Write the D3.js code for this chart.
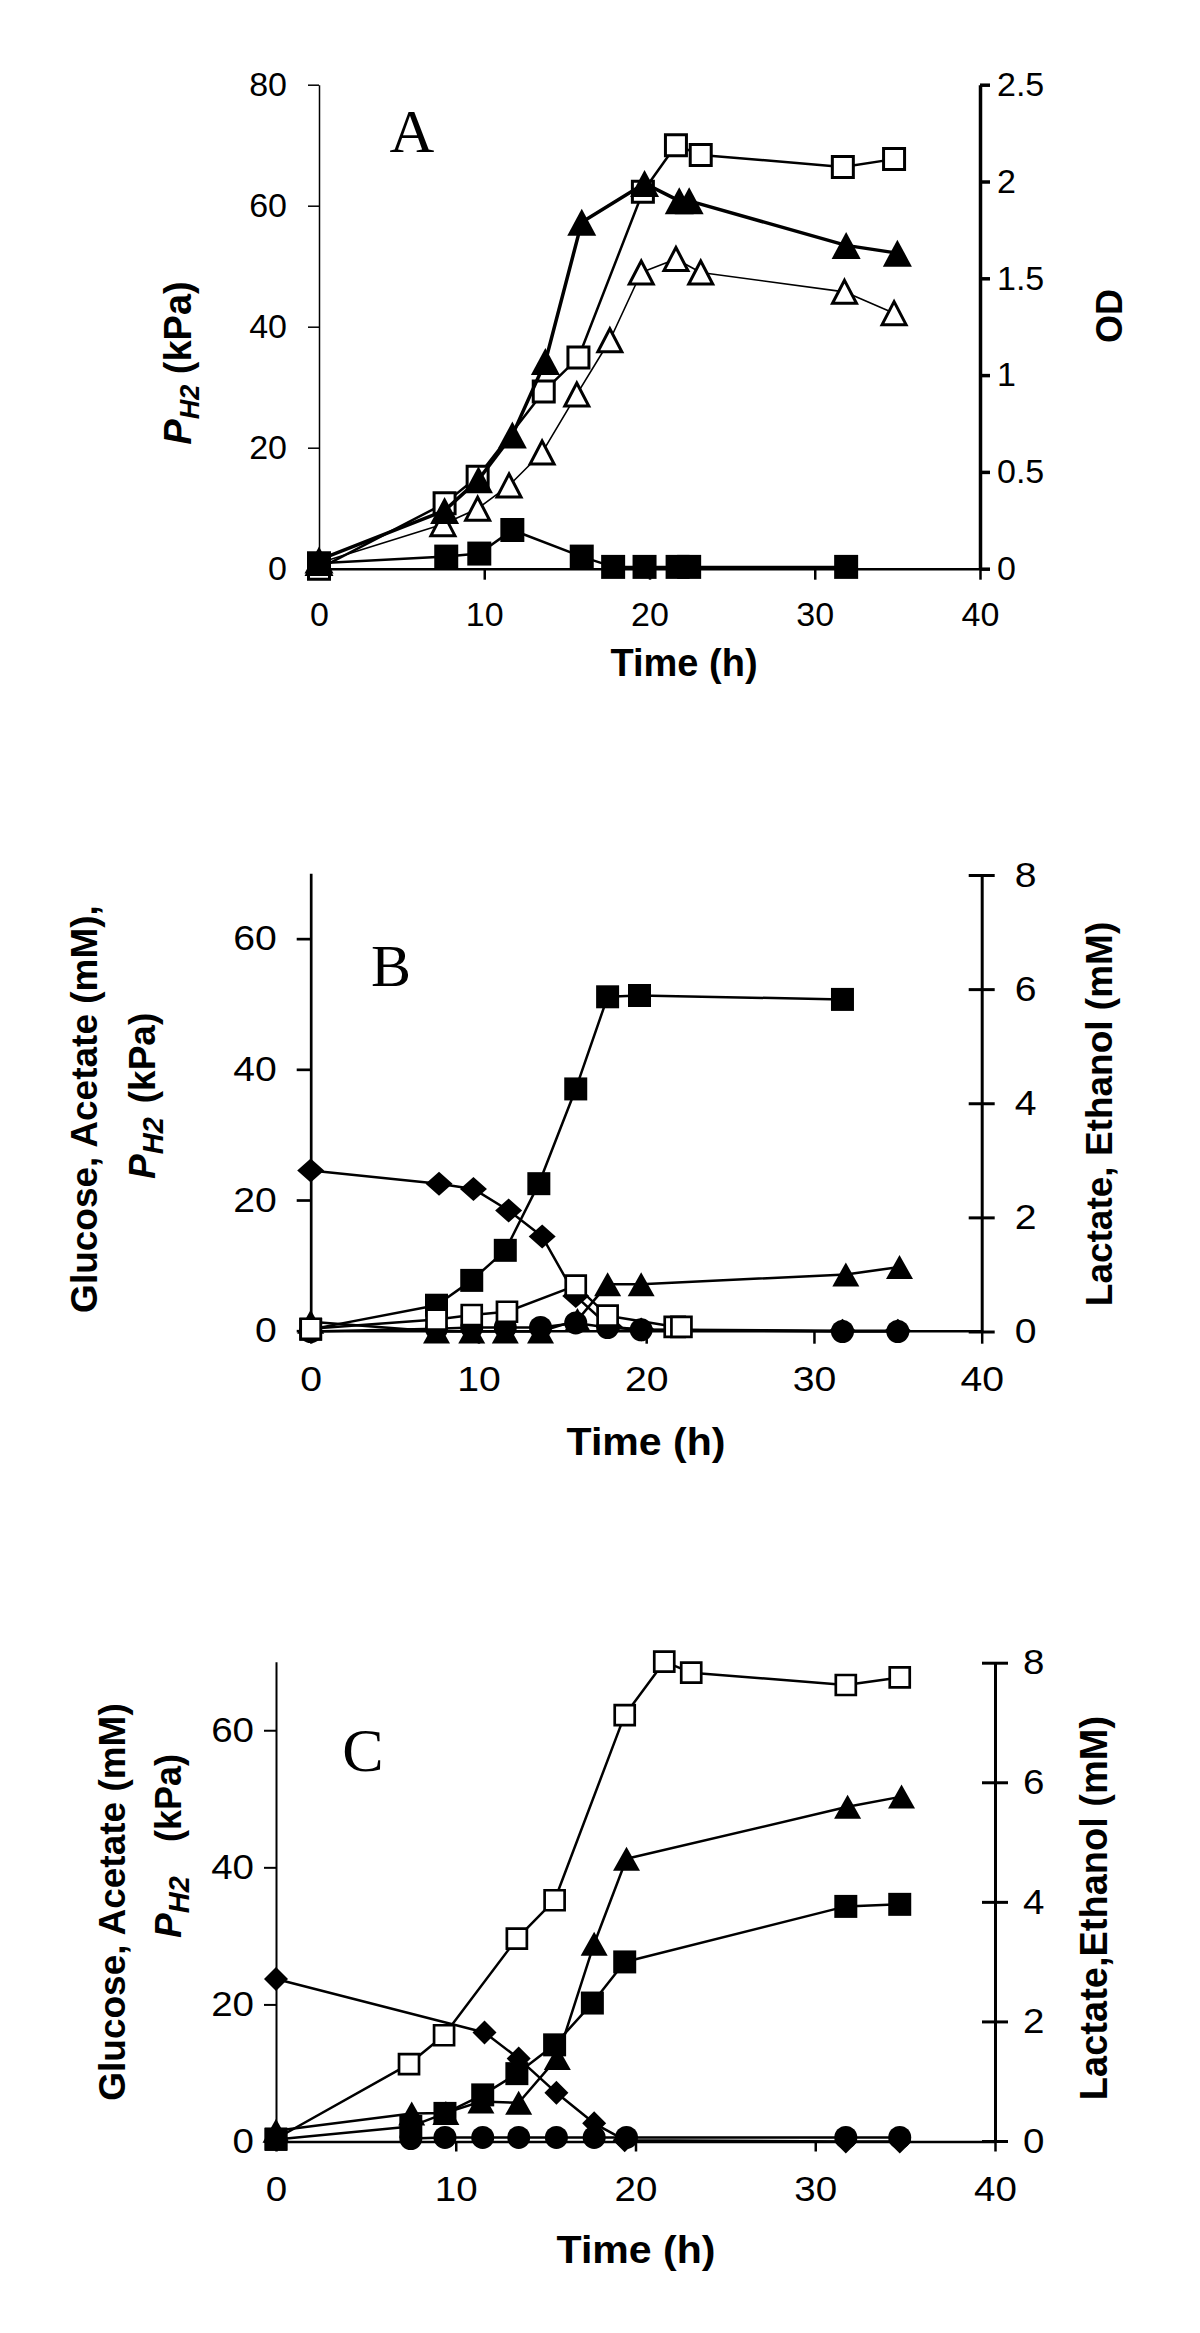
<!DOCTYPE html>
<html><head><meta charset="utf-8">
<script src="https://cdn.jsdelivr.net/npm/d3@7"></script>
<style>
html,body{margin:0;padding:0;background:#fff;}
svg{display:block;background:#fff;}
</style></head>
<body>
<svg id="chart" width="1200" height="2333"></svg>
<script>
// ================= DATA =================
const timeTicks = [0, 10, 20, 30, 40];

// ---- Panel A ----
const aLeftTicks = [0, 20, 40, 60, 80];
const aRightTicks = [0, 0.5, 1, 1.5, 2, 2.5];
const aOpenSqT = [0, 7.6, 9.6, 13.6, 15.7, 19.6, 21.6, 23.1, 31.7, 34.8];
const aOpenSqPH2 = [0, 10.8, 15.2, 29.3, 34.9, 62.3, 70.0, 68.4, 66.4, 67.7];
const aOpenTriT = [0, 7.5, 9.6, 11.5, 13.5, 15.6, 17.6, 19.5, 21.6, 23.1, 31.8, 34.8];
const aOpenTriOD = [0.03, 0.23, 0.31, 0.43, 0.60, 0.90, 1.18, 1.53, 1.60, 1.53, 1.43, 1.32];
const aFilledSqT = [0, 7.7, 9.7, 11.7, 15.9, 17.8, 19.7, 21.7, 22.4, 31.9];
const aFilledSqPH2 = [0.9, 2.0, 2.5, 6.4, 2.0, 0.3, 0.3, 0.3, 0.3, 0.3];
const aFilledTriT = [0, 7.6, 9.65, 11.7, 13.7, 15.9, 19.7, 21.8, 22.4, 31.9, 35.0];
const aFilledTriOD = [0.045, 0.30, 0.46, 0.69, 1.07, 1.79, 1.99, 1.90, 1.90, 1.67, 1.63];

// ---- Panels B and C axes ----
const bcLeftTicks = [0, 20, 40, 60];
const bcRightTicks = [0, 2, 4, 6, 8];

// ---- Panel B ----
const bGlucoseT = [0, 7.65, 9.7, 11.8, 13.8, 15.8, 17.8, 19.7, 31.7, 35.0];
const bGlucose = [24.5, 22.5, 21.7, 18.4, 14.4, 5.3, 0.6, 0.2, 0, 0];
const bAcetateT = [0, 7.5, 9.6, 11.6, 13.6, 15.8, 17.7, 19.6, 31.7];
const bAcetate = [0.2, 3.9, 7.7, 12.3, 22.5, 37.0, 51.1, 51.3, 50.7];
const bPH2T = [0, 7.5, 9.6, 11.7, 15.8, 17.7, 21.7, 22.1];
const bPH2 = [0.3, 1.7, 2.4, 2.9, 6.9, 2.3, 0.6, 0.6];
const bLactateT = [0, 7.5, 9.6, 11.6, 13.7, 15.9, 17.7, 19.7, 31.9, 35.1];
const bLactate = [0.17, 0, 0, 0, 0, 0.2, 0.83, 0.83, 1.0, 1.13];
const bEthanolT = [0, 7.5, 9.6, 11.6, 13.7, 15.8, 17.7, 19.7, 31.7, 35.0];
const bEthanol = [0, 0.05, 0.07, 0.07, 0.07, 0.15, 0.07, 0.03, 0, 0];

// ---- Panel C ----
const cPH2T = [0, 7.4, 9.35, 13.4, 15.5, 19.4, 21.6, 23.1, 31.7, 34.7];
const cPH2 = [0.4, 11.3, 15.5, 29.6, 35.2, 62.2, 70.0, 68.4, 66.6, 67.7];
const cAcetateT = [0, 7.5, 9.4, 11.5, 13.4, 15.5, 17.6, 19.4, 31.7, 34.7];
const cAcetate = [0.3, 2.2, 4.1, 6.8, 9.9, 14.1, 20.2, 26.2, 34.3, 34.6];
const cLactateT = [0, 7.55, 9.45, 11.4, 13.5, 15.65, 17.7, 19.5, 31.8, 34.8];
const cLactate = [0.17, 0.46, 0.47, 0.66, 0.64, 1.39, 3.30, 4.72, 5.59, 5.76];
const cGlucoseT = [0, 11.6, 13.5, 15.6, 17.7, 19.4, 31.7, 34.7];
const cGlucose = [23.7, 15.9, 12.1, 7.1, 2.65, 0.2, 0, 0];
const cEthanolT = [7.5, 9.4, 11.5, 13.5, 15.6, 17.7, 19.5, 31.7, 34.7];
const cEthanol = [0.04, 0.06, 0.06, 0.06, 0.06, 0.06, 0.06, 0.06, 0.06];

// ================= DRAWING =================
const SANS = "'Liberation Sans', Arial, Helvetica, sans-serif";
const SERIF = "'Liberation Serif', 'Times New Roman', serif";
const svg = d3.select("#chart");
svg.append("rect").attr("width", 1200).attr("height", 2333).attr("fill", "#fff");

function markerPath(shape, w, h) {
  const a = w / 2, b = h / 2;
  if (shape === "square") return `M${-a},${-b}H${a}V${b}H${-a}Z`;
  if (shape === "triangle") return `M0,${-b}L${a},${b}L${-a},${b}Z`;
  return `M0,${-b}L${a},0L0,${b}L${-a},0Z`; // diamond
}

function styleAxis(ax, size, sw, sx) {
  ax.attr("font-family", SANS).attr("font-size", size);
  ax.select(".domain").attr("stroke", "#000").attr("stroke-width", sw);
  ax.selectAll(".tick line").attr("stroke", "#000").attr("stroke-width", sw);
  ax.selectAll(".tick text").attr("fill", "#000").each(function () {
    if (sx !== 1) {
      const t = d3.select(this);
      const xv = +(t.attr("x") || 0);
      t.attr("x", xv / sx).attr("transform", `scale(${sx},1)`);
    }
  });
}

function drawPanel(p) {
  const g = svg.append("g");
  const x = d3.scaleLinear().domain([0, 40]).range([p.x0, p.x1]);
  const yL = d3.scaleLinear().domain(p.leftDomain).range([p.yB, p.yT]);
  const yR = d3.scaleLinear().domain(p.rightDomain).range([p.yBR, p.yTR]);
  const fmt = d => String(d);

  const gx = g.append("g").attr("transform", `translate(0,${p.yB})`)
    .call(d3.axisBottom(x).tickValues(timeTicks).tickFormat(fmt)
      .tickSize(p.xTick).tickSizeOuter(0).tickPadding(p.xPad));
  styleAxis(gx, p.fontSize, p.xSW, p.sx);

  const gl = g.append("g").attr("transform", `translate(${p.x0},0)`)
    .call(d3.axisLeft(yL).tickValues(p.leftTicks).tickFormat(fmt)
      .tickSize(p.lTick).tickSizeOuter(0).tickPadding(p.lPad));
  styleAxis(gl, p.fontSize, p.lSW, p.sx);

  const gr = g.append("g").attr("transform", `translate(${p.x1},0)`)
    .call(d3.axisRight(yR).tickValues(p.rightTicks).tickFormat(fmt)
      .tickSize(p.rTick).tickSizeOuter(0).tickPadding(p.rPad));
  styleAxis(gr, p.fontSize, p.rSW, p.sx);
  if (p.rCross) gr.selectAll(".tick line").attr("x1", -p.rTick);

  p.series.forEach(s => {
    const y = s.axis === "R" ? yR : yL;
    const pts = s.t.map((t, i) => [x(t), y(s.v[i])]);
    g.append("path").attr("d", d3.line()(pts))
      .attr("fill", "none").attr("stroke", "#000")
      .attr("stroke-width", s.lw).attr("stroke-linejoin", "round");
    const mg = g.append("g");
    if (s.shape === "circle") {
      mg.selectAll("circle").data(pts).join("circle")
        .attr("cx", d => d[0]).attr("cy", d => d[1]).attr("r", s.w / 2)
        .attr("fill", s.fill).attr("stroke", "#000").attr("stroke-width", s.sw);
    } else {
      mg.selectAll("path").data(pts).join("path")
        .attr("d", markerPath(s.shape, s.w, s.h))
        .attr("transform", d => `translate(${d[0]},${d[1]})`)
        .attr("fill", s.fill).attr("stroke", "#000").attr("stroke-width", s.sw)
        .attr("stroke-linejoin", "miter");
    }
  });
  return g;
}

function rotLabel(x, y, size, parts, opt = {}) {
  const t = svg.append("text")
    .attr("transform", `translate(${x},${y}) rotate(-90)`)
    .attr("text-anchor", "middle").attr("font-family", SANS)
    .attr("font-weight", "bold").attr("font-size", size)
    .attr("dy", "0.35em").attr("fill", "#000").style("white-space", "pre");
  let shifted = false;
  const subSize = opt.sub || Math.round(size * 0.72);
  const shift = opt.shift || Math.round(size * 0.22);
  parts.forEach(([txt, kind]) => {
    const ts = t.append("tspan").text(txt);
    if (kind.includes("i")) ts.attr("font-style", "italic");
    if (kind.includes("s")) { ts.attr("font-size", subSize).attr("dy", shift); shifted = true; }
    else if (shifted) { ts.attr("dy", -shift); shifted = false; }
  });
  return t;
}

function hText(x, y, txt, font, size, weight, sx = 1) {
  return svg.append("text")
    .attr("transform", `translate(${x},${y}) scale(${sx},1)`)
    .attr("text-anchor", "middle")
    .attr("font-family", font).attr("font-size", size)
    .attr("font-weight", weight || "normal").attr("fill", "#000").text(txt);
}

// ---------- Panel A ----------
drawPanel({
  x0: 319, x1: 980, yB: 568.7, yT: 84.7, yBR: 568.7, yTR: 84.7,
  leftDomain: [0, 80], rightDomain: [0, 2.5],
  leftTicks: aLeftTicks, rightTicks: aRightTicks,
  fontSize: 34, sx: 1,
  xTick: 11, xPad: 22, xSW: 2.5,
  lTick: 11, lPad: 21, lSW: 1.5,
  rTick: 10, rPad: 7, rSW: 3.5, rCross: false,
  series: [
    { t: aOpenSqT, v: aOpenSqPH2, axis: "L", shape: "square", w: 21, h: 21, fill: "#fff", sw: 3, lw: 2.5 },
    { t: aOpenTriT, v: aOpenTriOD, axis: "R", shape: "triangle", w: 24, h: 23, fill: "#fff", sw: 3, lw: 1.6 },
    { t: aFilledSqT, v: aFilledSqPH2, axis: "L", shape: "square", w: 24, h: 24, fill: "#000", sw: 0, lw: 2.5 },
    { t: aFilledTriT, v: aFilledTriOD, axis: "R", shape: "triangle", w: 29, h: 27, fill: "#000", sw: 0, lw: 3.5 }
  ]
});
hText(412, 152, "A", SERIF, 62);
hText(684, 676, "Time (h)", SANS, 38, "bold");
rotLabel(178, 363, 38, [["P", "i"], ["H2", "is"], [" (kPa)", ""]]);
rotLabel(1109, 316, 36, [["OD", ""]]);

// ---------- Panel B ----------
drawPanel({
  x0: 310.7, x1: 981.7, yB: 1330.7, yT: 873.3, yBR: 1331.5, yTR: 875,
  leftDomain: [0, 70], rightDomain: [0, 8],
  leftTicks: bcLeftTicks, rightTicks: bcRightTicks,
  fontSize: 35, sx: 1.12,
  xTick: 13, xPad: 22, xSW: 2.5,
  lTick: 14, lPad: 20, lSW: 2.7,
  rTick: 13, rPad: 20, rSW: 3, rCross: true,
  series: [
    { t: bGlucoseT, v: bGlucose, axis: "L", shape: "diamond", w: 27, h: 24, fill: "#000", sw: 0, lw: 2.5 },
    { t: bAcetateT, v: bAcetate, axis: "L", shape: "square", w: 23, h: 23, fill: "#000", sw: 0, lw: 2.5 },
    { t: bLactateT, v: bLactate, axis: "R", shape: "triangle", w: 27, h: 24, fill: "#000", sw: 0, lw: 2.5 },
    { t: bEthanolT, v: bEthanol, axis: "R", shape: "circle", w: 23, h: 23, fill: "#000", sw: 0, lw: 2.5 },
    { t: bPH2T, v: bPH2, axis: "L", shape: "square", w: 20, h: 20, fill: "#fff", sw: 2.7, lw: 2.5 }
  ]
});
hText(391, 986, "B", SERIF, 60);
hText(646, 1455, "Time (h)", SANS, 38, "bold", 1.08);
rotLabel(84, 1109, 37, [["Glucose, Acetate (mM),", ""]]);
rotLabel(142, 1148, 37, [["P", "i"], ["H2", "is"]], { sub: 29, shift: 8 });
rotLabel(142, 1058, 37, [["(kPa)", ""]]);
rotLabel(1099, 1114, 37, [["Lactate, Ethanol (mM)", ""]]);

// ---------- Panel C ----------
drawPanel({
  x0: 276, x1: 995, yB: 2141.5, yT: 1661.7, yBR: 2141, yTR: 1662.7,
  leftDomain: [0, 70], rightDomain: [0, 8],
  leftTicks: bcLeftTicks, rightTicks: bcRightTicks,
  fontSize: 35, sx: 1.1,
  xTick: 10, xPad: 25, xSW: 2.5,
  lTick: 12, lPad: 10, lSW: 2,
  rTick: 13, rPad: 15, rSW: 3, rCross: true,
  series: [
    { t: cPH2T, v: cPH2, axis: "L", shape: "square", w: 20, h: 20, fill: "#fff", sw: 2.7, lw: 2.5 },
    { t: cAcetateT, v: cAcetate, axis: "L", shape: "square", w: 23, h: 23, fill: "#000", sw: 0, lw: 2.5 },
    { t: cLactateT, v: cLactate, axis: "R", shape: "triangle", w: 27, h: 24, fill: "#000", sw: 0, lw: 2.5 },
    { t: cGlucoseT, v: cGlucose, axis: "L", shape: "diamond", w: 24, h: 24, fill: "#000", sw: 0, lw: 2.5 },
    { t: cEthanolT, v: cEthanol, axis: "R", shape: "circle", w: 23, h: 23, fill: "#000", sw: 0, lw: 2.5 }
  ]
});
hText(363, 1771, "C", SERIF, 62);
hText(636, 2263, "Time (h)", SANS, 38, "bold", 1.08);
rotLabel(112, 1902, 37, [["Glucose, Acetate (mM)", ""]]);
rotLabel(168, 1907, 37, [["P", "i"], ["H2", "is"]], { sub: 29, shift: 8 });
rotLabel(168, 1798, 36, [["(kPa)", ""]]);
rotLabel(1094, 1908, 38, [["Lactate,Ethanol (mM)", ""]]);
</script>
</body></html>
